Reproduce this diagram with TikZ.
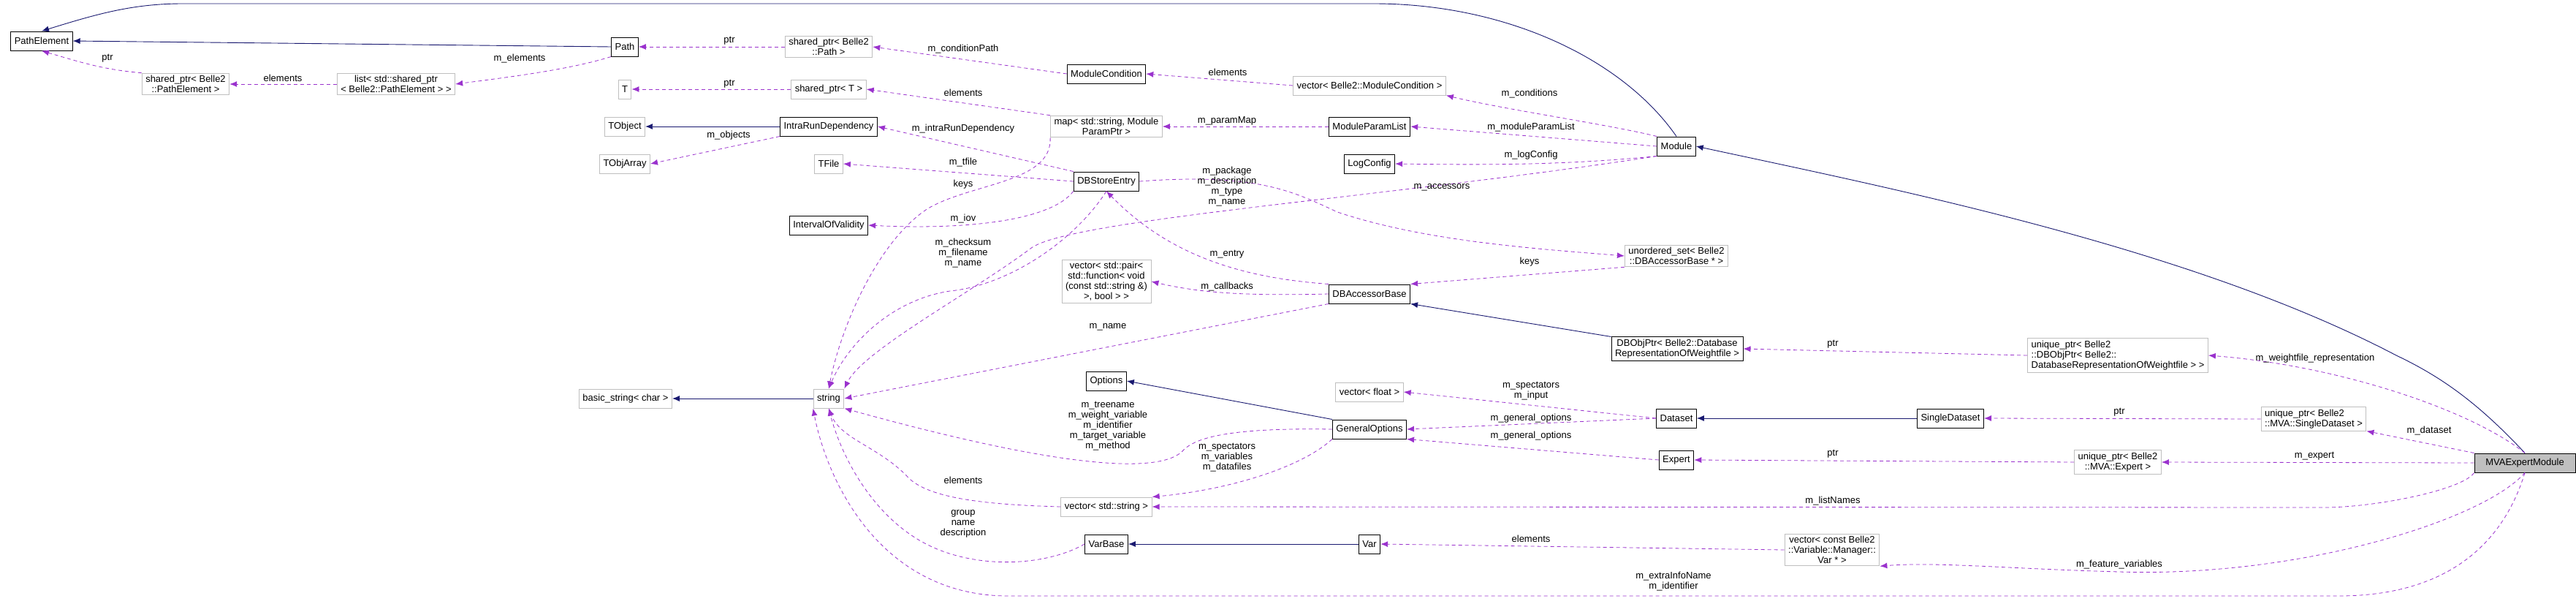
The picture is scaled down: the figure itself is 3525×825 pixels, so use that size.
\documentclass[tikz,border=0pt]{standalone}
\usepackage{fontspec}
\setmainfont{Liberation Sans}
\usetikzlibrary{arrows.meta}
\definecolor{navy}{RGB}{25,25,112}
\definecolor{dpurple}{RGB}{154,50,205}
\definecolor{lgray}{RGB}{191,191,191}
\begin{document}
\begin{tikzpicture}[x=1pt,y=-1pt,
  font=\fontsize{13}{14}\selectfont,
  cls/.style={draw=black,line width=1pt,fill=white,inner xsep=5pt,inner ysep=3pt,minimum height=26pt,align=center},
  ext/.style={draw=lgray,line width=1pt,fill=white,inner xsep=5pt,inner ysep=3pt,minimum height=26pt,align=center},
  inh/.style={draw=navy,line width=0.9pt,-{Latex[length=10pt,width=8pt]}},
  use/.style={draw=dpurple,line width=0.8pt,dash pattern=on 5pt off 4pt,-{Latex[length=10pt,width=8pt]}},
  lab/.style={inner sep=0pt,align=center}]
\useasboundingbox (0,0) rectangle (3525,825);
% nodes
\node[cls] (pe) at (57,56) {PathElement};
\node[cls] (path) at (855,64) {Path};
\node[ext] (sppe) at (254,115) {shared\_ptr< Belle2\\::PathElement >};
\node[ext] (list) at (542,115) {list< std::shared\_ptr\\< Belle2::PathElement > >};
\node[ext] (T) at (855,122) {T};
\node[ext] (tobj) at (855,173) {TObject};
\node[ext] (tobjarr) at (855,224) {TObjArray};
\node[ext] (spath) at (1134,64) {shared\_ptr< Belle2\\::Path >};
\node[ext] (spT) at (1134,122) {shared\_ptr< T >};
\node[cls] (irdep) at (1134,173) {IntraRunDependency};
\node[ext] (tfile) at (1134,224) {TFile};
\node[cls] (iov) at (1134,308) {IntervalOfValidity};
\node[ext] (bstr) at (856,545) {basic\_string< char >};
\node[ext] (str) at (1134,545) {string};
\node[cls] (mcond) at (1514,101) {ModuleCondition};
\node[ext] (map) at (1514,173) {map< std::string, Module\\ParamPtr >};
\node[cls] (dbse) at (1514,248) {DBStoreEntry};
\node[ext] (vpair) at (1514,385) {vector< std::pair<\\std::function< void\\(const std::string \&)\\>, bool > >};
\node[cls] (opts) at (1514,521) {Options};
\node[ext] (vstr) at (1514,693) {vector< std::string >};
\node[cls] (varbase) at (1514,744) {VarBase};
\node[ext] (vmc) at (1874,117) {vector< Belle2::ModuleCondition >};
\node[cls] (mpl) at (1874,173) {ModuleParamList};
\node[cls] (logc) at (1874,224) {LogConfig};
\node[cls] (dba) at (1874,402) {DBAccessorBase};
\node[ext] (vfloat) at (1874,536) {vector< float >};
\node[cls] (genopt) at (1874,587) {GeneralOptions};
\node[cls] (var) at (1874,744) {Var};
\node[cls] (module) at (2294,200) {Module};
\node[ext] (uset) at (2294,350) {unordered\_set< Belle2\\::DBAccessorBase * >};
\node[cls] (dbobj) at (2295,477) {DBObjPtr< Belle2::Database\\RepresentationOfWeightfile >};
\node[cls] (dataset) at (2294,572) {Dataset};
\node[cls] (expert) at (2294,629) {Expert};
\node[ext] (vvar) at (2507,752) {vector< const Belle2\\::Variable::Manager::\\Var * >};
\node[cls] (sds) at (2669,572) {SingleDataset};
\node[ext,align=left] (udb) at (2898,486) {unique\_ptr< Belle2\\::DBObjPtr< Belle2::\\DatabaseRepresentationOfWeightfile > >};
\node[ext] (uexp) at (2898,632) {unique\_ptr< Belle2\\::MVA::Expert >};
\node[ext,align=left] (usds) at (3166,573) {unique\_ptr< Belle2\\::MVA::SingleDataset >};
\node[cls,fill=lgray,minimum width=138pt] (mva) at (3455,633) {MVAExpertModule};
% inheritance
\draw[inh] (path.west) -- (pe.east);
\draw[inh] (module.north) .. controls (2220,80) and (2060,5) .. (1880,5) -- (250,5) .. controls (180,5) and (130,20) .. (pe.north);
\draw[inh] (irdep.west) -- (tobj.east);
\draw[inh] (bstr.east -| str.west) -- (bstr.east);
\draw[inh] (dbobj.north west) -- (dba.south east);
\draw[inh] (mva.north) .. controls (3390,550) and (3340,515) .. (3279,486) .. controls (3000,340) and (2600,260) .. (module.east);
\draw[inh] (genopt.north west) -- (opts.east);
\draw[inh] (sds.west) -- (dataset.east);
\draw[inh] (var.west) -- (varbase.east);
% usage
\draw[use] (sppe.north west) .. controls (140,95) and (110,85) .. (pe.south);
\draw[use] (list.west) -- (sppe.east);
\draw[use] (path.south west) .. controls (780,95) and (700,105) .. (list.east);
\draw[use] (spath.west) -- (path.east);
\draw[use] (spT.west) -- (T.east);
\draw[use] (irdep.south west) -- (tobjarr.east);
\draw[use] (mcond.west) -- (spath.east);
\draw[use] (vmc.west) -- (mcond.east);
\draw[use] (module.north west) .. controls (2200,170) and (2060,150) .. (vmc.south east);
\draw[use] (map.north west) -- (spT.east);
\draw[use] (mpl.west) -- (map.east);
\draw[use] (module.west) -- (mpl.east);
\draw[use] (dbse.north west) -- (irdep.east);
\draw[use] (dbse.west) -- (tfile.east);
\draw[use] (module.south west) .. controls (2150,225) and (2050,226) .. (logc.east);
\draw[use] (map.south west) .. controls (1440,250) and (1330,250) .. (1270,285) .. controls (1200,330) and (1150,450) .. (str.north);
\draw[use] (dbse.south west) .. controls (1440,300) and (1330,315) .. (iov.east);
\draw[use] (dbse.east) .. controls (1720,236) and (1770,262) .. (1830,290) .. controls (1950,330) and (2100,340) .. (uset.west);
\draw[use] (module.south west) .. controls (1900,270) and (1460,300) .. (1410,340) .. controls (1330,400) and (1180,480) .. (str.north east);
\draw[use] (dbse.south) .. controls (1470,330) and (1380,390) .. (1300,398) .. controls (1220,410) and (1160,470) .. (str.north);
\draw[use] (dba.north west) .. controls (1700,380) and (1600,350) .. (dbse.south);
\draw[use] (uset.south west) -- (dba.north east);
\draw[use] (dba.west) .. controls (1700,405) and (1640,400) .. (vpair.east);
\draw[use] (dba.south west) -- (str.east);
\draw[use] (udb.west) -- (dbobj.east);
\draw[use] (mva.north) .. controls (3380,560) and (3200,500) .. (udb.east);
\draw[use] (dataset.west) -- (vfloat.east);
\draw[use] (dataset.west) -- (genopt.east);
\draw[use] (expert.west) -- (genopt.south east);
\draw[use] (usds.west) -- (sds.east);
\draw[use] (mva.north west) -- (usds.south east);
\draw[use] (uexp.west) -- (expert.east);
\draw[use] (mva.west) -- (uexp.east);
\draw[use] (genopt.west) .. controls (1700,585) and (1640,595) .. (1620,615) .. controls (1590,650) and (1450,640) .. (str.south east);
\draw[use] (genopt.south west) .. controls (1780,640) and (1680,670) .. (vstr.north east);
\draw[use] (vstr.west) .. controls (1340,690) and (1265,680) .. (1240,650) .. controls (1200,610) and (1150,600) .. (str.south);
\draw[use] (mva.south west) .. controls (3370,670) and (3250,694) .. (3180,694) -- (vstr.east);
\draw[use] (varbase.west) .. controls (1430,775) and (1330,780) .. (1260,740) .. controls (1190,700) and (1150,620) .. (str.south);
\draw[use] (vvar.west) -- (var.east);
\draw[use] (mva.south) .. controls (3400,710) and (3150,790) .. (2900,782) .. controls (2750,778) and (2650,768) .. (vvar.south east);
\draw[use] (mva.south) .. controls (3420,760) and (3330,815) .. (3200,815) -- (1380,815) .. controls (1200,815) and (1130,650) .. (str.south west);
% labels
\node[lab] at (147,80) {ptr};
\node[lab] at (387,107) {elements};
\node[lab] at (711,80) {m\_elements};
\node[lab] at (998,56) {ptr};
\node[lab] at (998,115) {ptr};
\node[lab] at (997,185) {m\_objects};
\node[lab] at (1318,67) {m\_conditionPath};
\node[lab] at (1680,99) {elements};
\node[lab] at (2093,128) {m\_conditions};
\node[lab] at (1318,127) {elements};
\node[lab] at (1679,165) {m\_paramMap};
\node[lab] at (2095,174) {m\_moduleParamList};
\node[lab] at (1318,176) {m\_intraRunDependency};
\node[lab] at (1318,222) {m\_tfile};
\node[lab] at (2095,212) {m\_logConfig};
\node[lab] at (1318,252) {keys};
\node[lab] at (1318,299) {m\_iov};
\node[lab] at (1679,255) {m\_package\\m\_description\\m\_type\\m\_name};
\node[lab] at (1973,256) {m\_accessors};
\node[lab] at (1318,346) {m\_checksum\\m\_filename\\m\_name};
\node[lab] at (1679,348) {m\_entry};
\node[lab] at (2093,358) {keys};
\node[lab] at (1679,392) {m\_callbacks};
\node[lab] at (1516,447) {m\_name};
\node[lab] at (2508,471) {ptr};
\node[lab] at (3168,490) {m\_weightfile\_representation};
\node[lab] at (2095,535) {m\_spectators\\m\_input};
\node[lab] at (2095,572) {m\_general\_options};
\node[lab] at (2095,596) {m\_general\_options};
\node[lab] at (2900,564) {ptr};
\node[lab] at (3324,589) {m\_dataset};
\node[lab] at (2508,621) {ptr};
\node[lab] at (3167,624) {m\_expert};
\node[lab] at (1516,583) {m\_treename\\m\_weight\_variable\\m\_identifier\\m\_target\_variable\\m\_method};
\node[lab] at (1679,626) {m\_spectators\\m\_variables\\m\_datafiles};
\node[lab] at (1318,657) {elements};
\node[lab] at (2508,685) {m\_listNames};
\node[lab] at (1318,716) {group\\name\\description};
\node[lab] at (2095,737) {elements};
\node[lab] at (2900,772) {m\_feature\_variables};
\node[lab] at (2290,795) {m\_extraInfoName\\m\_identifier};
\end{tikzpicture}
\end{document}
